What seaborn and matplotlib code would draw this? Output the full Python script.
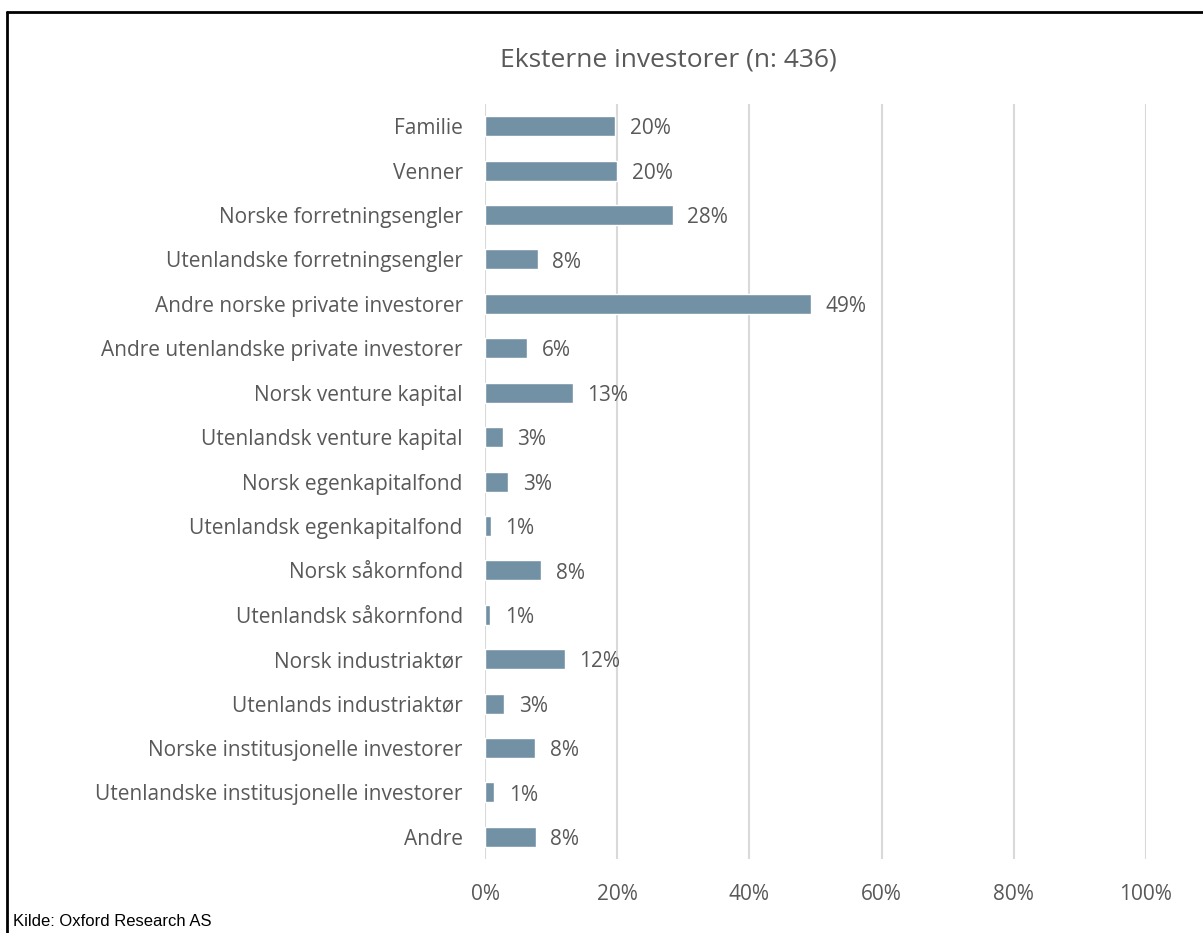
import numpy as np
import pandas as pd
import seaborn as sns
from matplotlib import pyplot as plt
from matplotlib import font_manager
from matplotlib.lines import Line2D
from matplotlib.ticker import PercentFormatter

categories = [
    "Familie", "Venner", "Norske forretningsengler", "Utenlandske forretningsengler",
    "Andre norske private investorer", "Andre utenlandske private investorer",
    "Norsk venture kapital", "Utenlandsk venture kapital", "Norsk egenkapitalfond",
    "Utenlandsk egenkapitalfond", "Norsk såkornfond", "Utenlandsk såkornfond",
    "Norsk industriaktør", "Utenlands industriaktør", "Norske institusjonelle investorer",
    "Utenlandske institusjonelle investorer", "Andre",
]
shares = [19.7, 20.0, 28.4, 8.0, 49.3, 6.4, 13.3, 2.7, 3.5, 0.9, 8.5, 0.8, 12.1, 2.9, 7.6, 1.4, 7.7]
labels = ["20%", "20%", "28%", "8%", "49%", "6%", "13%", "3%", "3%", "1%", "8%", "1%",
          "12%", "3%", "8%", "1%", "8%"]

sns.set_style("white")
plt.rcParams["font.family"] = ["Open Sans", "DejaVu Sans"]
grey = "#595959"

# narrow font for the source note, if it is there
try:
    font_manager.findfont("Liberation Sans Narrow", fallback_to_default=False)
    note_font, note_size = "Liberation Sans Narrow", 12.5
except ValueError:
    note_font, note_size = "Liberation Sans", 12

df = pd.DataFrame({"kategori": categories, "andel": shares})

fig = plt.figure(figsize=(12.03, 9.33), dpi=100)
ax = fig.add_axes([0.4032, 0.0793, 0.9526 - 0.4032, 0.8885 - 0.0793])
sns.barplot(df, x="andel", y="kategori", orient="h", color="#7391A4",
            saturation=1, width=0.45, ax=ax, zorder=3)

for i, (v, lab) in enumerate(zip(shares, labels)):
    ax.text(v + 2.2, i + 0.06, lab, va="center", ha="left", fontsize=15, color=grey)

ax.set_xlim(0, 100)
ax.set_xticks(np.arange(0, 101, 20))
ax.xaxis.set_major_formatter(PercentFormatter(decimals=0))
ax.grid(axis="x", color="#D9D9D9", linewidth=1.5, zorder=0)
ax.set(xlabel="", ylabel="")
ax.tick_params(axis="both", length=0, labelsize=15, labelcolor=grey)
ax.tick_params(axis="x", pad=18)
ax.tick_params(axis="y", pad=16)
for s in ax.spines.values():
    s.set_visible(False)

fig.text(668 / 1203, 1 - 60 / 933, "Eksterne investorer (n: 436)", ha="center", va="center",
         fontsize=19, color=grey)
fig.text(13 / 1203, 1 - 922 / 933, "Kilde: Oxford Research AS", ha="left", va="center",
         fontsize=note_size, color="black", family=[note_font, "DejaVu Sans"])

fig.add_artist(Line2D([7 / 1203, 7 / 1203], [0, 1 - 12 / 933], transform=fig.transFigure,
                      color="black", linewidth=2))
fig.add_artist(Line2D([7 / 1203, 1], [1 - 12 / 933, 1 - 12 / 933], transform=fig.transFigure,
                      color="black", linewidth=2))

fig.savefig("out.png", dpi=100)
